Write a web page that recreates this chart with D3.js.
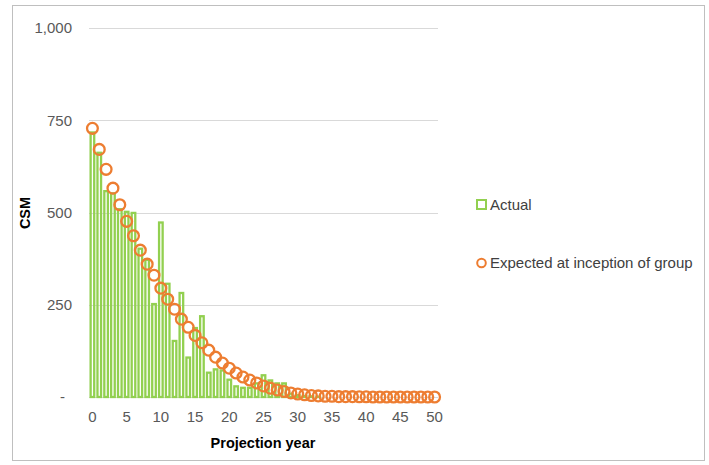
<!DOCTYPE html>
<html>
<head>
<meta charset="utf-8">
<script src="https://cdn.jsdelivr.net/npm/d3@7"></script>
<style>
  body { margin: 0; background: #fff; }
  text { font-family: "Liberation Sans", Arial, sans-serif; }
</style>
</head>
<body>
<div id="chart"></div>
<script>
// projection years 0..50
var years = d3.range(0, 51);

// actual CSM per projection year
var actual = [720, 665, 561, 555, 512, 505, 502, 405, 375, 255,
              476, 310, 155, 285, 110, 190, 222, 69, 78, 75,
              50, 32, 28, 28, 40, 62, 48, 40, 40, 12,
              8, 6, 5, 4, 3, 3, 2, 2, 1, 1,
              0, 0, 0, 0, 0, 0, 0, 0, 0, 0, 0];

// expected CSM at inception of group
var expected = [728, 671, 617, 566, 521, 476, 437, 398, 360, 330,
                295, 265, 238, 211, 189, 167, 147, 127, 108, 92,
                78, 65, 54, 46, 38, 30, 24, 19, 15, 11,
                8, 6, 4, 3, 2, 2, 1, 1, 1, 0.5,
                0.5, 0, 0, 0, 0, 0, 0, 0, 0, 0, 0];

var yTicks = [0, 250, 500, 750, 1000];
var xTicks = [0, 5, 10, 15, 20, 25, 30, 35, 40, 45, 50];
var legendNames = ["Actual", "Expected at inception of group"];

var width = 709, height = 465;
var green = "#92d050", orange = "#ed7d31";

var svg = d3.select("#chart").append("svg")
  .attr("width", width)
  .attr("height", height);

// outer frame
svg.append("rect")
  .attr("x", 12.5).attr("y", 5.5)
  .attr("width", 692).attr("height", 455)
  .attr("fill", "none")
  .attr("stroke", "#bfbfbf");

var x = d3.scaleBand()
  .domain(years)
  .range([89, 438]);

var y = d3.scaleLinear()
  .domain([0, 1000])
  .range([397, 28]);

/* gridlines */
svg.append("g")
  .selectAll("line")
  .data(yTicks).enter()
  .append("line")
  .attr("x1", 89).attr("x2", 438)
  .attr("y1", d => Math.round(y(d)) + 0.5)
  .attr("y2", d => Math.round(y(d)) + 0.5)
  .attr("stroke", "#d9d9d9")
  .attr("stroke-width", 1);

/* y axis labels */
var yAxis = d3.axisLeft(y)
  .tickValues(yTicks)
  .tickSize(0)
  .tickPadding(0)
  .tickFormat(d => d === 0 ? "-" : d3.format(",")(d));

var gy = svg.append("g")
  .attr("transform", "translate(72,0)")
  .call(yAxis);
gy.select(".domain").remove();
gy.selectAll("text")
  .attr("fill", "#595959")
  .style("font-size", "15px");
gy.selectAll(".tick")
  .filter(d => d === 0)
  .select("text")
  .attr("dx", "-7");

/* x axis labels */
var xAxis = d3.axisBottom(x)
  .tickValues(xTicks)
  .tickSize(0)
  .tickPadding(0);

var gx = svg.append("g")
  .attr("transform", "translate(0,411)")
  .call(xAxis);
gx.select(".domain").remove();
gx.selectAll("text")
  .attr("fill", "#595959")
  .style("font-size", "15px");

/* bars (hollow) */
var bw = x.bandwidth();
var outer = bw * 0.86;
var sw = 2.3;
svg.append("g")
  .selectAll("rect")
  .data(years.filter(d => actual[d] > 0)).enter()
  .append("rect")
  .attr("x", d => x(d) + (bw - outer) / 2 + sw / 2)
  .attr("width", outer - sw)
  .attr("y", d => y(actual[d]) + sw / 2)
  .attr("height", d => Math.max(0, y(0) - y(actual[d]) - sw / 2))
  .attr("fill", "none")
  .attr("stroke", green)
  .attr("stroke-width", sw);

/* markers (hollow circles) */
svg.append("g")
  .selectAll("circle")
  .data(years).enter()
  .append("circle")
  .attr("cx", d => x(d) + bw / 2)
  .attr("cy", d => y(expected[d]))
  .attr("r", 5.4)
  .attr("fill", "none")
  .attr("stroke", orange)
  .attr("stroke-width", 2.3);

/* axis titles */
svg.append("text")
  .attr("transform", "translate(30,213) rotate(-90)")
  .attr("text-anchor", "middle")
  .attr("fill", "#000")
  .style("font-size", "14.5px")
  .style("font-weight", "bold")
  .text("CSM");

svg.append("text")
  .attr("x", 263).attr("y", 448)
  .attr("text-anchor", "middle")
  .attr("fill", "#000")
  .style("font-size", "14.5px")
  .style("font-weight", "bold")
  .text("Projection year");

/* legend */
var legend = svg.append("g");
legend.append("rect")
  .attr("x", 477).attr("y", 200)
  .attr("width", 9).attr("height", 9)
  .attr("fill", "none")
  .attr("stroke", green)
  .attr("stroke-width", 2);
legend.append("circle")
  .attr("cx", 481.5).attr("cy", 263)
  .attr("r", 4.3)
  .attr("fill", "none")
  .attr("stroke", orange)
  .attr("stroke-width", 2);

legend.selectAll("text")
  .data(legendNames).enter()
  .append("text")
  .attr("x", 490)
  .attr("y", (d, i) => i === 0 ? 205 : 263)
  .attr("dy", "0.35em")
  .attr("fill", "#404040")
  .style("font-size", "15px")
  .text(d => d);
</script>
</body>
</html>
